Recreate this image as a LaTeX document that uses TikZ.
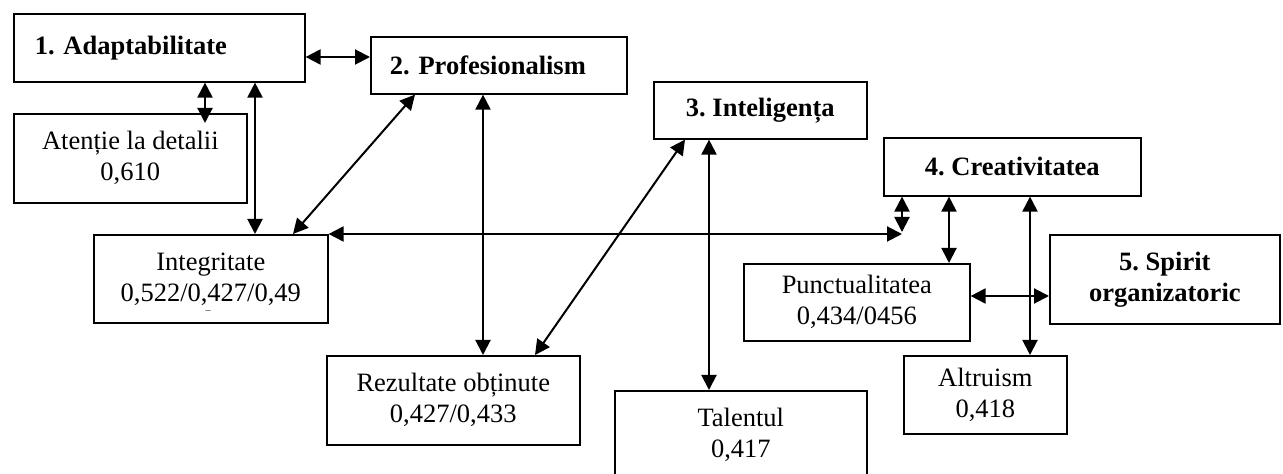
\documentclass[tikz,border=0pt]{standalone}
\usepackage{fontspec}
\setmainfont{Liberation Serif}
\usetikzlibrary{arrows.meta}
\frenchspacing
\tikzset{
    box/.style={draw,line width=0.8pt,inner sep=0pt,anchor=north west,align=center,
        font=\fontsize{13.25}{15.5}\selectfont},
    headbox/.style={box,font=\fontsize{13.25}{15.5}\selectfont\bfseries},
    link/.style={line width=1pt,{Triangle[length=7.5pt,width=7.5pt]}-{Triangle[length=7.5pt,width=7.5pt]}}
}
\begin{document}
\begin{tikzpicture}[x=0.5pt,y=-0.5pt]
        \clip (0,0) rectangle (1283,474);
        %% Nodes
        \node[headbox,align=left,text width=124.5pt,inner xsep=10.5pt,minimum height=34pt] (ada) at (13,13) {1. Adaptabilitate};
        \node[headbox,align=left,text width=109pt,inner xsep=9.5pt,minimum height=28.5pt] (prof) at (370,36) {2. Profesionalism};
        \node[headbox,minimum width=106.5pt,minimum height=28.5pt] (intel) at (653,81) {3. Inteligența};
        \node[headbox,minimum width=128.5pt,minimum height=29pt] (creat) at (883,137) {4. Creativitatea};
        \node[headbox,minimum width=115pt,minimum height=44.5pt] (spirit) at (1049,234) {5. Spirit\\organizatoric};
        \node[box,minimum width=116.5pt,minimum height=44.5pt] (atent) at (13,113) {Atenție la detalii\\0,610};
        \node[box,minimum width=117pt,minimum height=44pt] (integr) at (93,234) {Integritate\\0,522/0,427/0,49};
        \node[inner sep=0pt,font=\fontsize{5}{6}\selectfont] (intdash) at (208,312) {–};
        \node[box,minimum width=126.5pt,minimum height=44.5pt] (rezult) at (326,355) {Rezultate obținute\\0,427/0,433};
        \node[box,minimum width=126pt,minimum height=44pt] (talent) at (614,390) {Talentul\\0,417};
        \node[box,minimum width=113pt,minimum height=38.5pt] (punct) at (743,263) {Punctualitatea\\0,434/0456};
        \node[box,minimum width=81.5pt,minimum height=39pt] (altru) at (903,355) {Altruism\\0,418};
        %% Coordinates
        \coordinate (r1) at (0,57);
        \coordinate (r2) at (0,296);
        \coordinate (k1) at (205,0);
        \coordinate (k2) at (255,0);
        \coordinate (k3) at (415,0);
        \coordinate (k4) at (293,0);
        \coordinate (k5) at (483,0);
        \coordinate (k6) at (685,0);
        \coordinate (k7) at (535,0);
        \coordinate (k8) at (709,0);
        \coordinate (k9) at (949,0);
        \coordinate (k10) at (1030,0);
        \coordinate (J) at (902,234);
        %% Lines
        \draw[link] (ada.east |- r1) -- (prof.west |- r1);
        \draw[link,shorten >=-5pt] (k1 |- ada.south) -- (k1 |- atent.north);
        \draw[link] (k2 |- ada.south) -- (k2 |- integr.north);
        \draw[link] (k3 |- prof.south) -- (k4 |- integr.north);
        \draw[link] (k5 |- prof.south) -- (k5 |- rezult.north);
        \draw[link] (k6 |- intel.south) -- (k7 |- rezult.north);
        \draw[link] (k8 |- intel.south) -- (k8 |- talent.north);
        \draw[link] (integr.north east) -- (J);
        \draw[link] (J |- creat.south) -- ([yshift=1pt]J);
        \draw[link] (k9 |- creat.south) -- (k9 |- punct.north);
        \draw[link] (k10 |- creat.south) -- (k10 |- altru.north);
        \draw[link] (punct.east |- r2) -- (spirit.west |- r2);
    \end{tikzpicture}
\end{document}
